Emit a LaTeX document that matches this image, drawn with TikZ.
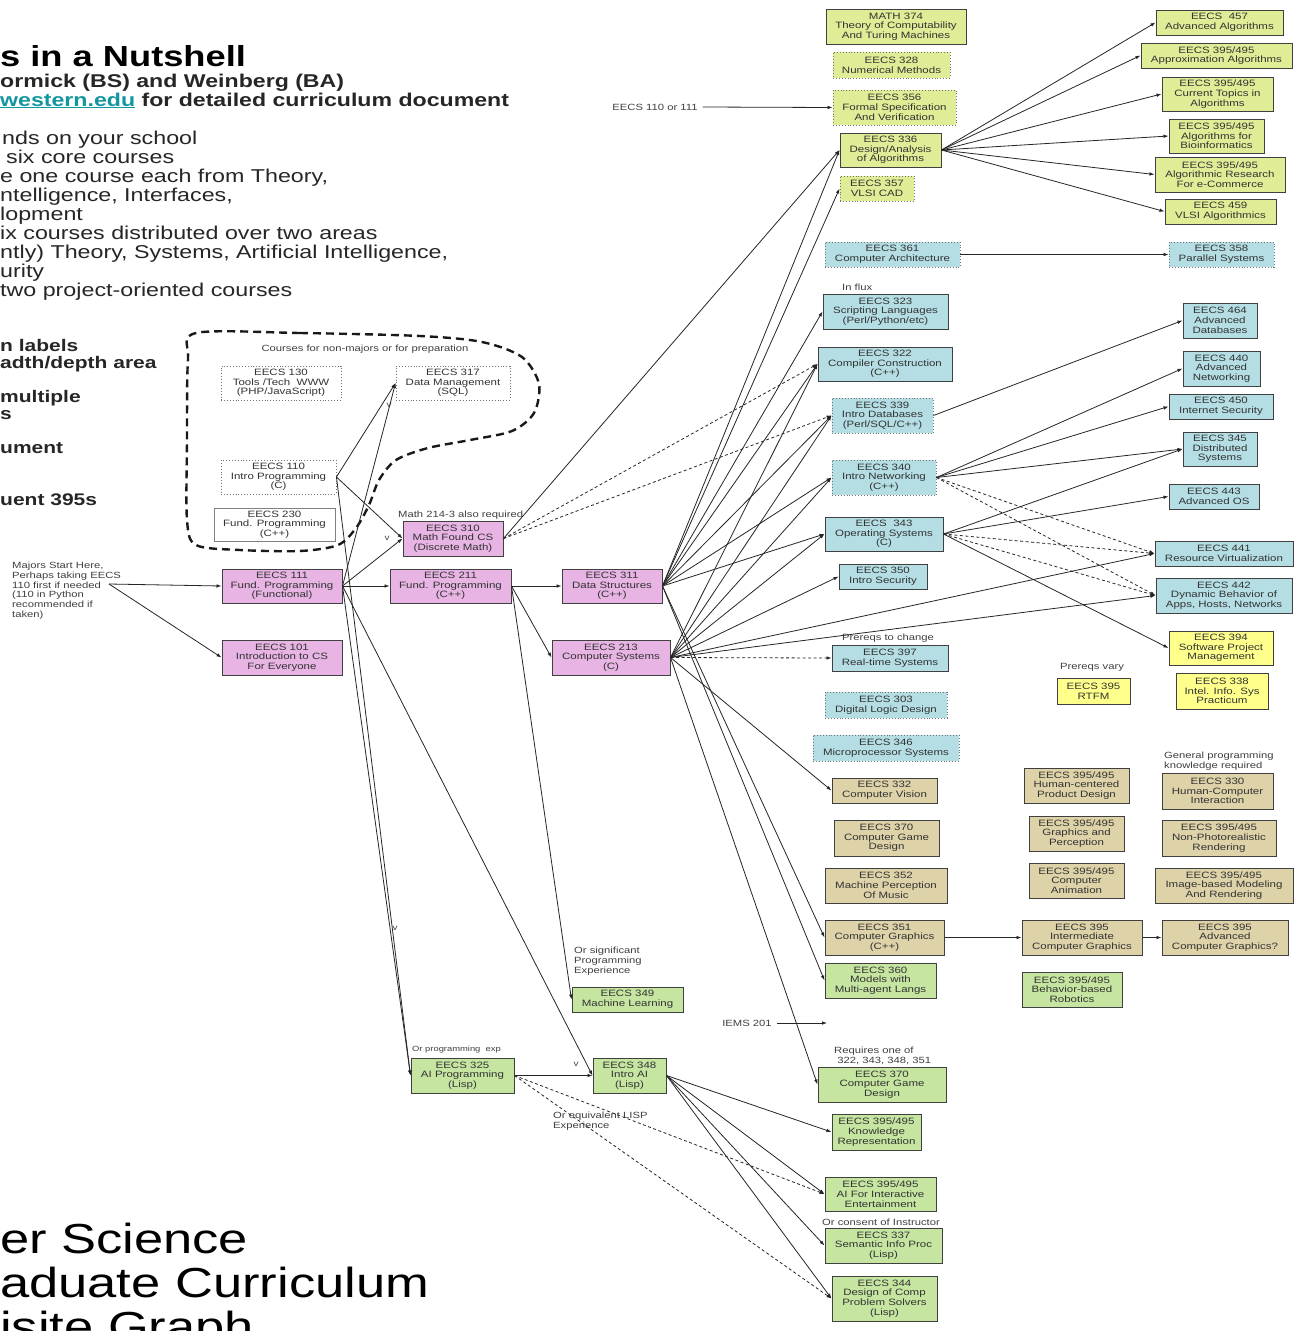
\documentclass[tikz,border=0pt]{standalone}
\usepackage{fontspec}
\setmainfont{Liberation Sans}[FakeStretch=1.25]
\usetikzlibrary{arrows.meta}
\definecolor{pinkc}{RGB}{231,180,228}
\definecolor{ygc}{RGB}{225,236,150}
\definecolor{bluec}{RGB}{180,222,228}
\definecolor{yelc}{RGB}{255,255,140}
\definecolor{tanc}{RGB}{222,210,168}
\definecolor{grnc}{RGB}{197,229,160}
\definecolor{linkc}{RGB}{20,150,160}
\tikzset{
  base/.style={rectangle, align=center, inner sep=1pt, font=\fontsize{9.2}{9.7}\selectfont, text=black!80},
  solidb/.style={base, draw=black!75, line width=1pt},
  dotb/.style={base, draw=black!55, dotted, line width=0.9pt},
  pinkbox/.style={solidb, fill=pinkc},
  ygbox/.style={solidb, fill=ygc},
  ygdot/.style={dotb, fill=ygc},
  bluebox/.style={solidb, fill=bluec},
  bluedot/.style={dotb, fill=bluec},
  yelbox/.style={solidb, fill=yelc},
  tanbox/.style={solidb, fill=tanc},
  grnbox/.style={solidb, fill=grnc},
  prepbox/.style={dotb, fill=white},
  whitebox/.style={base, draw=black!50, line width=0.6pt, fill=white},
  lbl/.style={inner sep=0pt, align=left, text=black!75, font=\fontsize{9}{9.7}\selectfont},
  ed/.style={-{Latex[length=5pt,width=3.6pt]}, line width=0.8pt, draw=black!85},
  dd/.style={ed, dash pattern=on 3pt off 2.5pt},
  para/.style={inner sep=0pt, anchor=base west, text=black!85, font=\fontsize{18.6}{19}\selectfont},
  bpara/.style={para, font=\fontsize{18.5}{19}\selectfont\bfseries},
  lpara/.style={para, font=\fontsize{16.8}{17}\selectfont\bfseries},
  huge/.style={inner sep=0pt, anchor=base west, text=black, font=\fontsize{42}{43}\selectfont}
}
\newcommand{\bx}[7]{\node[#6, minimum width={#4-#2}, minimum height={#5-#3}] (#1) at ({(#2+#4)/2},{(#3+#5)/2}) {#7};}
\begin{document}
\begin{tikzpicture}[x=1pt,y=-1pt]
\useasboundingbox (0,0) rectangle (1306,1331);
\fill[white] (0,0) rectangle (1306,1331);

% ---------- texts at the left ----------
\node[inner sep=0pt, anchor=base west, font=\fontsize{29}{30}\selectfont\bfseries] (ttl) at (0,66) {s in a Nutshell};
\node[bpara] (tl2) at (0,87) {ormick (BS) and Weinberg (BA)};
\node[bpara] (tl3) at (0,106) {\textcolor{linkc}{\underline{western.edu}} for detailed curriculum document};
\node[para] (p1) at (2,144) {nds on your school};
\node[para] (p2) at (6,163) {six core courses};
\node[para] (p3) at (0,182) {e one course each from Theory,};
\node[para] (p4) at (0,201) {ntelligence, Interfaces,};
\node[para] (p5) at (0,220) {lopment};
\node[para] (p6) at (0,239) {ix courses distributed over two areas};
\node[para] (p7) at (0,258) {ntly) Theory, Systems, Artificial Intelligence,};
\node[para] (p8) at (0,277) {urity};
\node[para] (p9) at (0,296) {two project-oriented courses};
\node[lpara] (q1) at (0,351) {n labels};
\node[lpara] (q2) at (0,368) {adth/depth area};
\node[lpara] (q3) at (0,402) {multiple};
\node[lpara] (q4) at (0,419) {s};
\node[lpara] (q5) at (0,453) {ument};
\node[lpara] (q6) at (0,505) {uent 395s};
\node[huge] (b1) at (0,1253) {er Science};
\node[huge] (b2) at (0,1297) {aduate Curriculum};
\node[huge] (b3) at (0,1341) {isite Graph};

% ---------- dashed region ----------
\draw[line width=2.4pt, dash pattern=on 8pt off 5pt, black!90]
  plot[smooth cycle, tension=0.5] coordinates {(196,333) (300,333) (420,336) (482,342) (522,357) (539,384) (534,413) (512,431) (470,440) (428,448) (396,460) (379,480) (369,505) (356,528) (338,545) (300,551) (240,550) (196,545) (187,520) (187,440) (188,360)};
\node[lbl, anchor=center] (lprep) at (365,349) {Courses for non-majors or for preparation};

% ---------- boxes ----------
\bx{n130}{221}{366}{341}{400}{prepbox}{EECS 130\\Tools /Tech\ \ WWW\\(PHP/JavaScript)}
\bx{n317}{396}{366}{510}{400}{prepbox}{EECS 317\\Data Management\\(SQL)}
\bx{n110}{221}{460}{336}{494}{prepbox}{EECS 110\\Intro Programming\\(C)}
\bx{n230}{214}{508}{335}{541}{whitebox}{EECS 230\\Fund. Programming\\(C++)}

\bx{n310}{403}{521}{503}{556}{pinkbox}{EECS 310\\Math Found CS\\(Discrete Math)}
\bx{n111}{222}{569}{342}{603}{pinkbox}{EECS 111\\Fund. Programming\\(Functional)}
\bx{n211}{390}{569}{511}{603}{pinkbox}{EECS 211\\Fund. Programming\\(C++)}
\bx{n311}{562}{569}{662}{603}{pinkbox}{EECS 311\\Data Structures\\(C++)}
\bx{n101}{222}{640}{342}{675}{pinkbox}{EECS 101\\Introduction to CS\\For Everyone}
\bx{n213}{552}{640}{670}{675}{pinkbox}{EECS 213\\Computer Systems\\(C)}

\bx{m374}{826}{9}{966}{44}{ygbox}{MATH 374\\Theory of Computability\\And Turing Machines}
\bx{n328}{833}{52}{950}{78}{ygdot}{EECS 328\\Numerical Methods}
\bx{n356}{833}{90}{956}{125}{ygdot}{EECS 356\\Formal Specification\\And Verification}
\bx{n336}{840}{133}{941}{167}{ygbox}{EECS 336\\Design/Analysis\\of Algorithms}
\bx{n357}{840}{176}{914}{201}{ygdot}{EECS 357\\VLSI CAD}
\bx{n457}{1156}{10}{1283}{35}{ygbox}{EECS\ \ 457\\Advanced Algorithms}
\bx{napx}{1141}{43}{1292}{68}{ygbox}{EECS 395/495\\Approximation Algorithms}
\bx{ncur}{1162}{77}{1273}{111}{ygbox}{EECS 395/495\\Current Topics in\\Algorithms}
\bx{nbio}{1169}{119}{1264}{153}{ygbox}{EECS 395/495\\Algorithms for\\Bioinformatics}
\bx{ncom}{1155}{157}{1285}{192}{ygbox}{EECS 395/495\\Algorithmic Research\\For e-Commerce}
\bx{n459}{1165}{199}{1276}{224}{ygbox}{EECS 459\\VLSI Algorithmics}

\bx{n361}{825}{242}{960}{267}{bluedot}{EECS 361\\Computer Architecture}
\bx{n358}{1169}{242}{1274}{267}{bluedot}{EECS 358\\Parallel Systems}
\bx{n323}{823}{294}{948}{329}{bluebox}{EECS 323\\Scripting Languages\\(Perl/Python/etc)}
\bx{n322}{818}{347}{952}{381}{bluebox}{EECS 322\\Compiler Construction\\(C++)}
\bx{n339}{832}{398}{933}{433}{bluedot}{EECS 339\\Intro Databases\\(Perl/SQL/C++)}
\bx{n340}{832}{460}{936}{495}{bluedot}{EECS 340\\Intro Networking\\(C++)}
\bx{n464}{1183}{303}{1257}{338}{bluebox}{EECS 464\\Advanced\\Databases}
\bx{n440}{1183}{351}{1260}{386}{bluebox}{EECS 440\\Advanced\\Networking}
\bx{n450}{1169}{394}{1273}{419}{bluebox}{EECS 450\\Internet Security}
\bx{n345}{1183}{432}{1257}{466}{bluebox}{EECS 345\\Distributed\\Systems}
\bx{n443}{1169}{484}{1259}{509}{bluebox}{EECS 443\\Advanced OS}
\bx{n343}{825}{517}{943}{551}{bluebox}{EECS\ \ 343\\Operating Systems\\(C)}
\bx{n350}{839}{564}{927}{589}{bluebox}{EECS 350\\Intro Security}
\bx{n441}{1155}{541}{1293}{566}{bluebox}{EECS 441\\Resource Virtualization}
\bx{n442}{1156}{578}{1292}{613}{bluebox}{EECS 442\\Dynamic Behavior of\\Apps, Hosts, Networks}
\bx{n397}{832}{645}{948}{671}{bluebox}{EECS 397\\Real-time Systems}
\bx{n303}{825}{692}{947}{718}{bluedot}{EECS 303\\Digital Logic Design}
\bx{n346}{813}{735}{959}{761}{bluedot}{EECS 346\\Microprocessor Systems}

\bx{n394}{1169}{631}{1273}{665}{yelbox}{EECS 394\\Software Project\\Management}
\bx{nrtfm}{1057}{678}{1130}{704}{yelbox}{EECS 395\\RTFM}
\bx{n338}{1176}{673}{1268}{709}{yelbox}{EECS 338\\Intel. Info. Sys\\Practicum}

\bx{n332}{832}{778}{937}{803}{tanbox}{EECS 332\\Computer Vision}
\bx{n370t}{834}{820}{939}{856}{tanbox}{EECS 370\\Computer Game\\Design}
\bx{n352}{825}{868}{947}{903}{tanbox}{EECS 352\\Machine Perception\\Of Music}
\bx{n351}{825}{920}{944}{955}{tanbox}{EECS 351\\Computer Graphics\\(C++)}
\bx{nhcp}{1024}{768}{1129}{803}{tanbox}{EECS 395/495\\Human-centered\\Product Design}
\bx{ngap}{1029}{816}{1124}{851}{tanbox}{EECS 395/495\\Graphics and\\Perception}
\bx{nani}{1029}{863}{1124}{898}{tanbox}{EECS 395/495\\Computer\\Animation}
\bx{nicg}{1022}{920}{1142}{955}{tanbox}{EECS 395\\Intermediate\\Computer Graphics}
\bx{n330}{1162}{773}{1273}{809}{tanbox}{EECS 330\\Human-Computer\\Interaction}
\bx{nnpr}{1162}{820}{1276}{856}{tanbox}{EECS 395/495\\Non-Photorealistic\\Rendering}
\bx{nibm}{1155}{868}{1293}{903}{tanbox}{EECS 395/495\\Image-based Modeling\\And Rendering}
\bx{nacg}{1162}{920}{1288}{955}{tanbox}{EECS 395\\Advanced\\Computer Graphics?}

\bx{n360}{825}{963}{936}{998}{grnbox}{EECS 360\\Models with\\Multi-agent Langs}
\bx{nbbr}{1022}{972}{1122}{1007}{grnbox}{EECS 395/495\\Behavior-based\\Robotics}
\bx{n349}{572}{987}{683}{1012}{grnbox}{EECS 349\\Machine Learning}
\bx{n325}{411}{1058}{514}{1093}{grnbox}{EECS 325\\AI Programming\\(Lisp)}
\bx{n348}{593}{1058}{666}{1093}{grnbox}{EECS 348\\Intro AI\\(Lisp)}
\bx{n370g}{818}{1067}{946}{1102}{grnbox}{EECS 370\\Computer Game\\Design}
\bx{nkr}{832}{1114}{921}{1150}{grnbox}{EECS 395/495\\Knowledge\\Representation}
\bx{naie}{825}{1177}{936}{1211}{grnbox}{EECS 395/495\\AI For Interactive\\Entertainment}
\bx{n337}{825}{1228}{942}{1263}{grnbox}{EECS 337\\Semantic Info Proc\\(Lisp)}
\bx{n344}{832}{1276}{937}{1321}{grnbox}{EECS 344\\Design of Comp\\Problem Solvers\\(Lisp)}

% ---------- labels ----------
\node[lbl, anchor=north west, font=\fontsize{9}{9.7}\selectfont] (lmaj) at (12,562) {Majors Start Here,\\Perhaps taking EECS\\110 first if needed\\(110 in Python\\recommended if\\taken)};
\coordinate (mj) at (109,584);
\node[lbl, anchor=west] (lmath) at (398,515) {Math 214-3 also required};
\node[lbl, anchor=west] (lflux) at (842,287) {In flux};
\node[lbl] (lchg) at (888,638) {Prereqs to change};
\node[lbl] (lvary) at (1092,667) {Prereqs vary};
\node[lbl, anchor=north west] (lgen) at (1164,752) {General programming\\knowledge required};
\node[lbl, anchor=north west] (lsig) at (574,947) {Or significant\\Programming\\Experience};
\node[lbl, anchor=west, font=\fontsize{7.5}{8}\selectfont] (lpexp) at (412,1050) {Or programming\ \ exp};
\node[lbl, anchor=north west] (lreq) at (834,1047) {Requires one of\\\ 322, 343, 348, 351};
\node[lbl, anchor=north west] (llisp) at (553,1112) {Or equivalent LISP\\Experience};
\node[lbl] (lcons) at (881,1222) {Or consent of Instructor};
\node[lbl] (t110) at (655,107) {EECS 110 or 111};
\node[lbl] (tiems) at (747,1023) {IEMS 201};
\coordinate (iemsend) at (827,1023);
\node[lbl, font=\fontsize{8}{8}\selectfont] (v1) at (389,405) {v};
\node[lbl, font=\fontsize{8}{8}\selectfont] (v2) at (387,538) {v};
\node[lbl, font=\fontsize{8}{8}\selectfont] (v3) at (395,928) {v};
\node[lbl, font=\fontsize{8}{8}\selectfont] (v4) at (576,1064) {v};

% ---------- connectors ----------
\draw[ed] (mj) -- (n111.west);
\draw[ed] (mj) -- (n101.west);
\draw[ed] (n111.east) -- (n211.west);
\draw[ed] (n111.east) -- (n310.west);
\draw[ed] (n110.east) -- (n310.west);
\draw[ed] (n110.east) -- (n317.west);
\draw[ed] (n111.east) -- (n317.west);
\draw[ed] (n110.east) -- (n325.west);
\draw[ed] (n111.east) -- (n325.west);
\draw[ed] (n111.east) -- (n348.west);
\draw[ed] (n211.east) -- (n311.west);
\draw[ed] (n211.east) -- (n213.west);
\draw[ed] (n211.east) -- (n349.west);
\draw[ed] (n310.east) -- (n336.west);
\draw[dd] (n310.east) -- (n322.west);
\draw[dd] (n310.east) -- (n339.west);
\foreach \t in {n336,n357,n323,n322,n339,n340,n343,n351,n360}
  \draw[ed] (n311.east) -- (\t.west);
\foreach \t in {n322,n339,n340,n343,n350,n441,n442,n332,n370g}
  \draw[ed] (n213.east) -- (\t.west);
\draw[dd] (n213.east) -- (n397.west);
\foreach \t in {n457,napx,ncur,nbio,ncom,n459}
  \draw[ed] (n336.east) -- (\t.west);
\draw[ed] (t110.east) ++(5,0) -- (n356.west);
\draw[ed] (n361.east) -- (n358.west);
\draw[ed] (n339.east) -- (n464.west);
\foreach \t in {n440,n450,n345}
  \draw[ed] (n340.east) -- (\t.west);
\draw[dd] (n340.east) -- (n441.west);
\draw[dd] (n340.east) -- (n442.west);
\foreach \t in {n345,n443,n394}
  \draw[ed] (n343.east) -- (\t.west);
\draw[dd] (n343.east) -- (n441.west);
\draw[dd] (n343.east) -- (n442.west);
\draw[ed] (n351.east) -- (nicg.west);
\draw[ed] (nicg.east) -- (nacg.west);
\draw[ed] (n325.east) -- (n348.west);
\draw[dd] (n325.east) -- (naie.west);
\draw[dd] (n325.east) -- (n344.west);
\foreach \t in {nkr,naie,n337,n344}
  \draw[ed] (n348.east) -- (\t.west);
\draw[ed] (tiems.east) ++(5,0) -- (iemsend);
\end{tikzpicture}
\end{document}
